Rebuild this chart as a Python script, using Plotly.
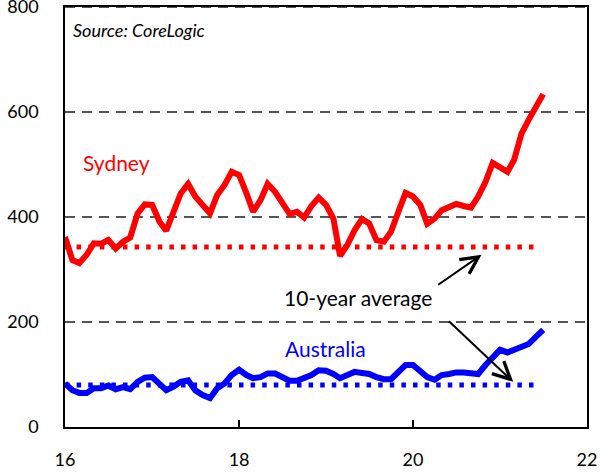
import plotly.graph_objects as go
import pandas as pd

# monthly data, Jan 2016 - Jul 2021
months = pd.date_range('2016-01-01', periods=67, freq='MS')

sydney = [362, 318, 312, 328, 350, 349, 356, 340, 353, 361, 407, 424,
          423, 391, 374, 407, 445, 463, 439, 423, 407, 442, 461, 486,
          480, 445, 410, 432, 463, 448, 426, 406, 410, 399, 421, 437,
          423, 397, 326, 347, 375, 396, 388, 356, 353, 372, 410, 446,
          439, 423, 387, 397, 413, 419, 425, 421, 418, 439, 467, 503,
          495, 486, 509, 559, 585, 610, 634]

australia = [83, 70, 65, 65, 74, 74, 79, 72, 76, 72, 86, 94,
             95, 83, 70, 77, 86, 89, 70, 61, 55, 74, 83, 99,
             109, 99, 93, 95, 102, 102, 96, 88, 88, 93, 99, 108,
             107, 101, 93, 99, 105, 103, 101, 95, 91, 91, 105, 118,
             118, 105, 95, 90, 99, 101, 104, 104, 102, 101, 118, 134,
             147, 142, 147, 150, 158, 172, 185]

avg_dates = ['2016-01-01', '2021-06-01']
sydney_avg = [343, 343]
australia_avg = [80, 80]

font = 'Lato'
grid = dict(color='#555555', width=2, dash='10px,7px')

fig = go.Figure()
fig.add_trace(go.Scatter(x=avg_dates, y=sydney_avg, mode='lines',
                         line=dict(color='#ff0000', width=5, dash='4.5px,7.1px')))
fig.add_trace(go.Scatter(x=avg_dates, y=australia_avg, mode='lines',
                         line=dict(color='#0000ff', width=5, dash='4.5px,7.1px')))
fig.add_trace(go.Scatter(x=months, y=sydney, mode='lines',
                         line=dict(color='#ff0000', width=6)))
fig.add_trace(go.Scatter(x=months, y=australia, mode='lines',
                         line=dict(color='#0000ff', width=6)))

fig.update_layout(
    width=604, height=472,
    margin=dict(l=65, r=17, t=7, b=45),
    plot_bgcolor='white', paper_bgcolor='white',
    showlegend=False,
    font=dict(family=font, size=18, color='black'),
)
fig.update_xaxes(
    range=['2016-01-01', '2022-01-01'],
    dtick='M24', tick0='2016-01-01', tickformat='%y',
    showgrid=False, zeroline=False, automargin=False,
    showline=True, linecolor='black', linewidth=1.5, mirror=True,
    ticks='inside', ticklen=7, tickcolor='black', tickwidth=1.5,
    ticklabelstandoff=16, ticklabeloverflow='allow',
)
fig.update_yaxes(
    range=[0, 800], dtick=200,
    showgrid=True, gridcolor=grid['color'], gridwidth=grid['width'],
    griddash=grid['dash'],
    zeroline=False, automargin=False,
    showline=True, linecolor='black', linewidth=1.5, mirror=True,
    ticks='', ticklabelstandoff=21, ticklabeloverflow='allow',
)
# top gridline sits on the frame
fig.add_hline(y=800, line=grid, layer='above')

fig.add_annotation(x=0.012, y=0.945, xref='paper', yref='paper',
                   text='<i>Source: CoreLogic</i>', showarrow=False,
                   xanchor='left', yanchor='middle', font=dict(size=18))
fig.add_annotation(x='2016-03-10', y=503, text='Sydney', showarrow=False,
                   xanchor='left', yanchor='middle', font=dict(color='#ff0000', size=21))
fig.add_annotation(x='2018-07-05', y=149, text='Australia', showarrow=False,
                   xanchor='left', yanchor='middle', font=dict(color='#0000ff', size=21))
fig.add_annotation(x='2018-07-01', y=246, text='10-year average', showarrow=False,
                   xanchor='left', yanchor='middle', font=dict(size=21))

# arrows pointing at the average lines
fig.add_annotation(x='2020-10-15', y=328, ax='2020-04-10', ay=269,
                   xref='x', yref='y', axref='x', ayref='y', text='',
                   showarrow=True, arrowhead=5, arrowwidth=2, arrowsize=1.7,
                   arrowcolor='black')
fig.add_annotation(x='2021-02-25', y=86, ax='2020-05-25', ay=204,
                   xref='x', yref='y', axref='x', ayref='y', text='',
                   showarrow=True, arrowhead=5, arrowwidth=2, arrowsize=1.7,
                   arrowcolor='black')

fig.write_html('out.html', config={'displayModeBar': False},
               post_script="document.body.style.margin='0';")
